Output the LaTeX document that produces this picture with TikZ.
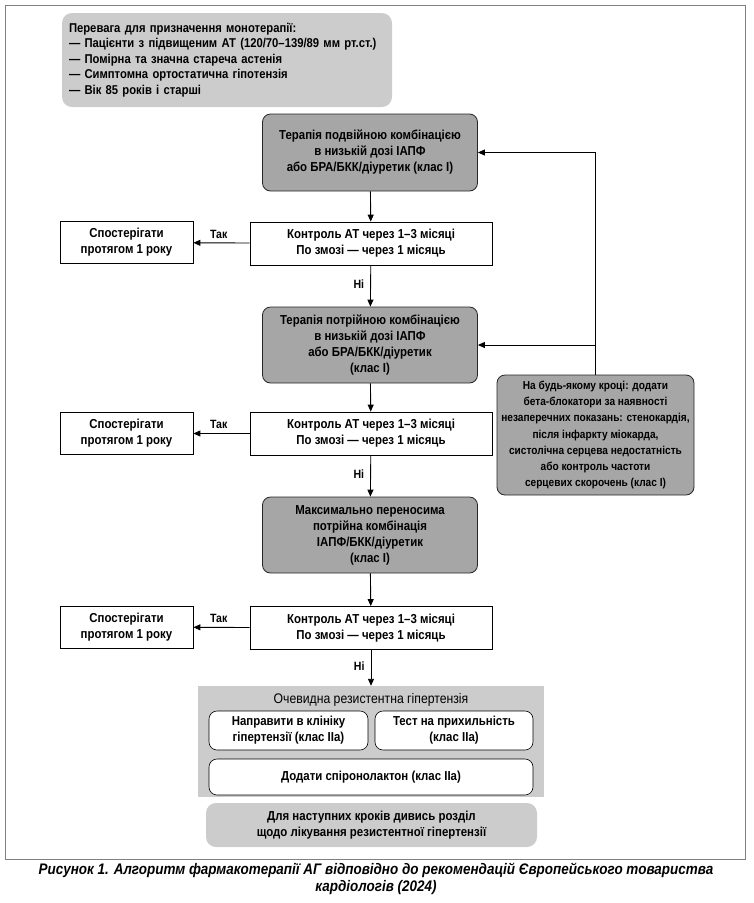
\documentclass[tikz,border=0pt]{standalone}
\usepackage{fontspec}
\setmainfont{Liberation Sans}[FakeStretch=0.88]
\usetikzlibrary{arrows.meta}
\definecolor{darkfill}{HTML}{A6A6A6}
\definecolor{lightfill}{HTML}{CCCCCC}
\definecolor{framegray}{HTML}{808080}
\begin{document}
\begin{tikzpicture}[x=1pt,y=-1pt,
  every node/.style={font=\fontsize{13}{16}\selectfont\bfseries, align=center, inner sep=0pt},
  darkbox/.style={draw=black!85, line width=0.8pt, fill=darkfill, rounded corners=8pt, minimum width=215pt, minimum height=76pt},
  ctrlbox/.style={draw=black, line width=0.8pt, fill=white, minimum width=242pt, minimum height=43pt},
  obsbox/.style={draw=black, line width=0.8pt, fill=white, minimum width=133pt, minimum height=42pt},
  subbox/.style={draw=black, line width=0.6pt, fill=white, rounded corners=8pt},
  arr/.style={-{Triangle[length=7pt,width=6pt]}, line width=0.9pt},
  lbl/.style={font=\fontsize{12}{14}\selectfont\bfseries}
]
\useasboundingbox (0,0) rectangle (753,903);
\node[draw=framegray, line width=1pt, minimum width=740pt, minimum height=854pt] (frame) at (375,432) {};

\node[fill=lightfill, rounded corners=10pt, minimum width=330pt, minimum height=94pt, text width=316pt, align=left,
      font=\fontsize{12.8}{15.5}\selectfont\bfseries] (pref) at (227,60)
  {Перевага для призначення монотерапії:\\
   — Пацієнти з підвищеним АТ (120/70–139/89 мм рт.ст.)\\
   — Помірна та значна стареча астенія\\
   — Симптомна ортостатична гіпотензія\\
   — Вік 85 років і старші};

\node[darkbox, minimum height=77pt] (t1) at (370,152.5)
  {Терапія подвійною комбінацією\\в низькій дозі ІАПФ\\або БРА/БКК/діуретик (клас І)};
\node[ctrlbox] (c1) at (371,243.5) {Контроль АТ через 1–3 місяці\\По змозі — через 1 місяць};
\node[obsbox] (o1) at (126.5,242.5) {Спостерігати\\протягом 1 року};

\node[darkbox] (t2) at (370,345)
  {Терапія потрійною комбінацією\\в низькій дозі ІАПФ\\або БРА/БКК/діуретик\\(клас І)};
\node[ctrlbox] (c2) at (371,433.5) {Контроль АТ через 1–3 місяці\\По змозі — через 1 місяць};
\node[obsbox] (o2) at (126.5,433.5) {Спостерігати\\протягом 1 року};

\node[darkbox] (t3) at (370,535)
  {Максимально переносима\\потрійна комбінація\\ІАПФ/БКК/діуретик\\(клас І)};
\node[ctrlbox] (c3) at (371,628) {Контроль АТ через 1–3 місяці\\По змозі — через 1 місяць};
\node[obsbox] (o3) at (126.5,627) {Спостерігати\\протягом 1 року};

\node[darkbox, minimum width=197pt, minimum height=120pt, font=\fontsize{11.5}{16.2}\selectfont\bfseries] (beta) at (595.5,435)
  {На будь-якому кроці: додати\\бета-блокатори за наявності\\незаперечних показань: стенокардія,\\після інфаркту міокарда,\\систолічна серцева недостатність\\або контроль частоти\\серцевих скорочень (клас І)};

\node[fill=lightfill, minimum width=346pt, minimum height=111pt] (res) at (371,741.5) {};
\node[font=\fontsize{13.9}{16}\selectfont] (restitle) at (371,700) {Очевидна резистентна гіпертензія};
\node[subbox, minimum width=159pt, minimum height=39pt] (refer) at (288.5,730.5) {Направити в клініку\\гіпертензії (клас IIa)};
\node[subbox, minimum width=158pt, minimum height=39pt] (adher) at (454,730.5) {Тест на прихильність\\(клас IIa)};
\node[subbox, minimum width=324pt, minimum height=36pt] (spiro) at (371,777) {Додати спіронолактон (клас IIa)};

\node[fill=lightfill, rounded corners=10pt, minimum width=331pt, minimum height=44pt] (next) at (371.5,825)
  {Для наступних кроків дивись розділ\\щодо лікування резистентної гіпертензії};

\node[font=\fontsize{15.3}{17}\selectfont\bfseries\itshape] (cap) at (376,878.5)
  {Рисунок 1. Алгоритм фармакотерапії АГ відповідно до рекомендацій Європейського товариства\\кардіологів (2024)};

\draw[arr] (t1) -- (c1);
\draw[arr] (c1) -- node[lbl, pos=0.55, above=4pt] {Так} (o1);
\draw[arr] (c1) -- node[lbl, pos=0.45, left=6pt] {Ні} (t2);
\draw[arr] (t2) -- (c2);
\draw[arr] (c2) -- node[lbl, pos=0.55, above=4pt] {Так} (o2);
\draw[arr] (c2) -- node[lbl, pos=0.45, left=6pt] {Ні} (t3);
\draw[arr] (t3) -- (c3);
\draw[arr] (c3) -- node[lbl, pos=0.55, above=4pt] {Так} (o3);
\draw[arr] (c3) -- node[lbl, pos=0.45, left=6pt] {Ні} (res);

\coordinate (up) at (beta.north |- t1.east);
\coordinate (mid) at (beta.north |- t2.east);
\draw[line width=0.9pt] (beta.north) -- (up);
\draw[arr] (up) -- (t1.east);
\draw[arr] (mid) -- (t2.east);
\end{tikzpicture}
\end{document}
